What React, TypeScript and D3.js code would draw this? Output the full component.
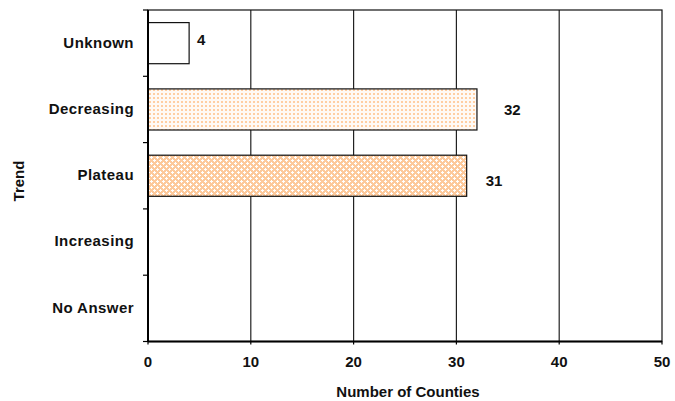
import React from "react";
import * as d3 from "d3";

const categories = ["Unknown", "Decreasing", "Plateau", "Increasing", "No Answer"];
const values: (number | null)[] = [4, 32, 31, null, null];
const xTicks = [0, 10, 20, 30, 40, 50];
const fills = ["white", "url(#dots)", "url(#cross)", "white", "white"];
// label nudges (px) as seen in the reference
const labelDx = [8, 27, 19, 10, 10];
const labelDy = [-3.5, 0, 4.5, 0, 0];

const W = 675, H = 401;
const M = { left: 148, right: 662, top: 10, bottom: 341.5 };
const FONT = "'Liberation Sans', Arial, sans-serif";

export default function App() {
  const x = d3.scaleLinear().domain([0, 50]).range([M.left, M.right]);
  const y = d3.scaleBand<string>().domain(categories).range([M.top, M.bottom]).padding(0);
  const step = y.step();
  const barH = step * 0.62;
  const boundaries = d3.range(categories.length + 1).map((i) => M.top + i * step);

  return (
    <svg width={W} height={H} style={{ position: "absolute", left: 0, top: 0, background: "white" }}>
      <defs>
        <pattern id="dots" width="4" height="4" patternUnits="userSpaceOnUse">
          <rect width="4" height="4" fill="#fffaf5" />
          <rect x="1" y="1" width="2" height="2" fill="#ffcfa3" />
        </pattern>
        <pattern id="cross" width="6" height="6" patternUnits="userSpaceOnUse">
          <rect width="6" height="6" fill="#fdc99b" />
          <rect x="1" y="0" width="1" height="3" fill="#fff" />
          <rect x="0" y="1" width="3" height="1" fill="#fff" />
          <rect x="4" y="3" width="1" height="3" fill="#fff" />
          <rect x="3" y="4" width="3" height="1" fill="#fff" />
        </pattern>
      </defs>
      <rect x={0} y={0} width={W} height={H} fill="white" />
      {/* gridlines */}
      {xTicks.slice(1, -1).map((t) => (
        <line key={t} x1={x(t)} x2={x(t)} y1={M.top} y2={M.bottom} stroke="#222" strokeWidth={1.2} />
      ))}
      {/* plot border */}
      <rect x={M.left} y={M.top} width={M.right - M.left} height={M.bottom - M.top} fill="none" stroke="#111" strokeWidth={1.2} />
      {/* bars */}
      {categories.map((c, i) => {
        const v = values[i];
        if (v == null) return null;
        const cy = (y(c) as number) + step / 2;
        return (
          <g key={c}>
            <rect x={x(0)} y={cy - barH / 2} width={x(v) - x(0)} height={barH} fill={fills[i]} stroke="#111" strokeWidth={1.2} />
            <text x={x(v) + labelDx[i]} y={cy + labelDy[i]} dy="0.36em" fontFamily={FONT} fontWeight="bold" fontSize={15} fill="#111">
              {v}
            </text>
          </g>
        );
      })}
      {/* axes */}
      <line x1={M.left} x2={M.right} y1={M.bottom} y2={M.bottom} stroke="#000" strokeWidth={2.2} />
      <line x1={M.left} x2={M.left} y1={M.top} y2={M.bottom} stroke="#000" strokeWidth={2} />
      {xTicks.map((t) => (
        <g key={t}>
          <line x1={x(t)} x2={x(t)} y1={M.bottom} y2={M.bottom + 3} stroke="#000" strokeWidth={1.2} />
          <text x={x(t)} y={M.bottom + 20} dy="0.36em" textAnchor="middle" fontFamily={FONT} fontWeight="bold" fontSize={15} fill="#111">
            {t}
          </text>
        </g>
      ))}
      {boundaries.map((b, i) => (
        <line key={i} x1={M.left - 5} x2={M.left} y1={b} y2={b} stroke="#000" strokeWidth={1.2} />
      ))}
      {categories.map((c) => (
        <text key={c} x={134} y={(y(c) as number) + step / 2 - 1} dy="0.36em" textAnchor="end" fontFamily={FONT} fontWeight="bold" fontSize={15} letterSpacing={0.45} fill="#111">
          {c}
        </text>
      ))}
      <text x={(M.left + M.right) / 2 + 3} y={397} textAnchor="middle" fontFamily={FONT} fontWeight="bold" fontSize={15} fill="#111">
        Number of Counties
      </text>
      <text transform="translate(24,181) rotate(-90)" textAnchor="middle" fontFamily={FONT} fontWeight="bold" fontSize={15} fill="#111">
        Trend
      </text>
    </svg>
  );
}
